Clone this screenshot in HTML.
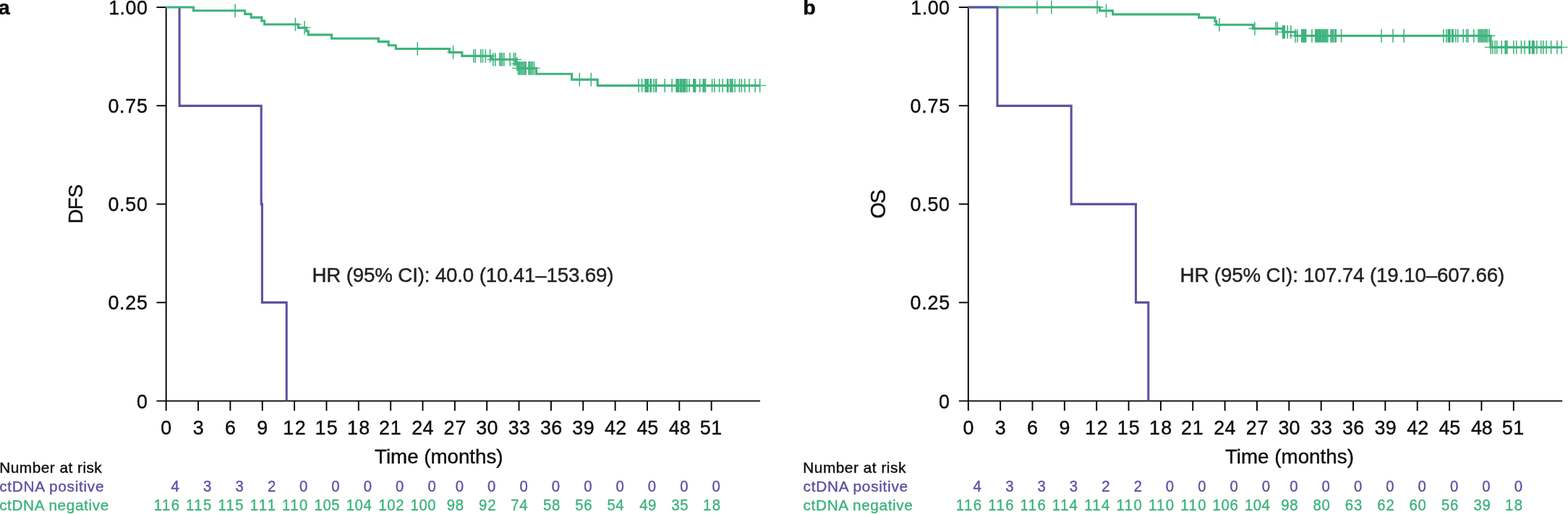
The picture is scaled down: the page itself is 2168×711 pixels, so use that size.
<!DOCTYPE html>
<html lang="en">
<head>
<meta charset="utf-8">
<title>Kaplan–Meier: DFS and OS by ctDNA status</title>
<style>
html,body{margin:0;padding:0;background:#fff;}
body{width:2168px;height:711px;overflow:hidden;}
svg{display:block;font-family:"Liberation Sans",Arial,Helvetica,sans-serif;}
text{white-space:pre;}
</style>
</head>
<body>
<svg width="2168" height="711" viewBox="0 0 2168 711">
<rect width="2168" height="711" fill="#fff"/>
<!-- panel a: DFS -->
<line x1="229.70" y1="9.15" x2="229.70" y2="555.55" stroke="#000" stroke-width="1.9"/>
<line x1="216.40" y1="554.60" x2="1051.00" y2="554.60" stroke="#000" stroke-width="1.9"/>
<line x1="216.40" y1="10.10" x2="229.70" y2="10.10" stroke="#000" stroke-width="1.9"/>
<text transform="translate(150.18 20.10) scale(0.95 1)" font-size="28.3" fill="#0c0c0c" stroke="#0c0c0c" stroke-width="0.4" letter-spacing="0.503">1.00</text>
<line x1="216.40" y1="146.23" x2="229.70" y2="146.23" stroke="#000" stroke-width="1.9"/>
<text transform="translate(149.42 156.23) scale(0.95 1)" font-size="28.3" fill="#0c0c0c" stroke="#0c0c0c" stroke-width="0.4" letter-spacing="0.793">0.75</text>
<line x1="216.40" y1="282.35" x2="229.70" y2="282.35" stroke="#000" stroke-width="1.9"/>
<text transform="translate(149.42 292.35) scale(0.95 1)" font-size="28.3" fill="#0c0c0c" stroke="#0c0c0c" stroke-width="0.4" letter-spacing="0.769">0.50</text>
<line x1="216.40" y1="418.48" x2="229.70" y2="418.48" stroke="#000" stroke-width="1.9"/>
<text transform="translate(149.42 428.48) scale(0.95 1)" font-size="28.3" fill="#0c0c0c" stroke="#0c0c0c" stroke-width="0.4" letter-spacing="0.793">0.25</text>
<text transform="translate(188.99 564.60) scale(0.95 1)" font-size="28.3" fill="#0c0c0c" stroke="#0c0c0c" stroke-width="0.4">0</text>
<line x1="229.70" y1="554.60" x2="229.70" y2="568.20" stroke="#000" stroke-width="1.9"/>
<text transform="translate(222.31 601.10) scale(0.95 1)" font-size="28.3" fill="#0c0c0c" stroke="#0c0c0c" stroke-width="0.4">0</text>
<line x1="274.05" y1="554.60" x2="274.05" y2="568.20" stroke="#000" stroke-width="1.9"/>
<text transform="translate(266.76 601.10) scale(0.95 1)" font-size="28.3" fill="#0c0c0c" stroke="#0c0c0c" stroke-width="0.4">3</text>
<line x1="318.40" y1="554.60" x2="318.40" y2="568.20" stroke="#000" stroke-width="1.9"/>
<text transform="translate(310.94 601.10) scale(0.95 1)" font-size="28.3" fill="#0c0c0c" stroke="#0c0c0c" stroke-width="0.4">6</text>
<line x1="362.75" y1="554.60" x2="362.75" y2="568.20" stroke="#000" stroke-width="1.9"/>
<text transform="translate(355.36 601.10) scale(0.95 1)" font-size="28.3" fill="#0c0c0c" stroke="#0c0c0c" stroke-width="0.4">9</text>
<line x1="407.10" y1="554.60" x2="407.10" y2="568.20" stroke="#000" stroke-width="1.9"/>
<text transform="translate(391.18 601.10) scale(0.95 1)" font-size="28.3" fill="#0c0c0c" stroke="#0c0c0c" stroke-width="0.4" letter-spacing="1.598">12</text>
<line x1="451.45" y1="554.60" x2="451.45" y2="568.20" stroke="#000" stroke-width="1.9"/>
<text transform="translate(435.53 601.10) scale(0.95 1)" font-size="28.3" fill="#0c0c0c" stroke="#0c0c0c" stroke-width="0.4" letter-spacing="1.315">15</text>
<line x1="495.80" y1="554.60" x2="495.80" y2="568.20" stroke="#000" stroke-width="1.9"/>
<text transform="translate(479.88 601.10) scale(0.95 1)" font-size="28.3" fill="#0c0c0c" stroke="#0c0c0c" stroke-width="0.4" letter-spacing="1.386">18</text>
<line x1="540.15" y1="554.60" x2="540.15" y2="568.20" stroke="#000" stroke-width="1.9"/>
<text transform="translate(523.91 601.10) scale(0.95 1)" font-size="28.3" fill="#0c0c0c" stroke="#0c0c0c" stroke-width="0.4" letter-spacing="0.820">21</text>
<line x1="584.50" y1="554.60" x2="584.50" y2="568.20" stroke="#000" stroke-width="1.9"/>
<text transform="translate(569.26 601.10) scale(0.95 1)" font-size="28.3" fill="#0c0c0c" stroke="#0c0c0c" stroke-width="0.4" letter-spacing="0.254">24</text>
<line x1="628.85" y1="554.60" x2="628.85" y2="568.20" stroke="#000" stroke-width="1.9"/>
<text transform="translate(613.61 601.10) scale(0.95 1)" font-size="28.3" fill="#0c0c0c" stroke="#0c0c0c" stroke-width="0.4" letter-spacing="0.891">27</text>
<line x1="673.20" y1="554.60" x2="673.20" y2="568.20" stroke="#000" stroke-width="1.9"/>
<text transform="translate(658.29 601.10) scale(0.95 1)" font-size="28.3" fill="#0c0c0c" stroke="#0c0c0c" stroke-width="0.4" letter-spacing="0.183">30</text>
<line x1="717.55" y1="554.60" x2="717.55" y2="568.20" stroke="#000" stroke-width="1.9"/>
<text transform="translate(702.64 601.10) scale(0.95 1)" font-size="28.3" fill="#0c0c0c" stroke="#0c0c0c" stroke-width="0.4" letter-spacing="0.325">33</text>
<line x1="761.90" y1="554.60" x2="761.90" y2="568.20" stroke="#000" stroke-width="1.9"/>
<text transform="translate(746.99 601.10) scale(0.95 1)" font-size="28.3" fill="#0c0c0c" stroke="#0c0c0c" stroke-width="0.4" letter-spacing="0.325">36</text>
<line x1="806.25" y1="554.60" x2="806.25" y2="568.20" stroke="#000" stroke-width="1.9"/>
<text transform="translate(791.34 601.10) scale(0.95 1)" font-size="28.3" fill="#0c0c0c" stroke="#0c0c0c" stroke-width="0.4" letter-spacing="0.395">39</text>
<line x1="850.60" y1="554.60" x2="850.60" y2="568.20" stroke="#000" stroke-width="1.9"/>
<text transform="translate(836.10 601.10) scale(0.95 1)" font-size="28.3" fill="#0c0c0c" stroke="#0c0c0c" stroke-width="0.4" letter-spacing="0.112">42</text>
<line x1="894.95" y1="554.60" x2="894.95" y2="568.20" stroke="#000" stroke-width="1.9"/>
<text transform="translate(880.45 601.10) scale(0.95 1)" font-size="28.3" fill="#0c0c0c" stroke="#0c0c0c" stroke-width="0.4" letter-spacing="-0.171">45</text>
<line x1="939.30" y1="554.60" x2="939.30" y2="568.20" stroke="#000" stroke-width="1.9"/>
<text transform="translate(924.80 601.10) scale(0.95 1)" font-size="28.3" fill="#0c0c0c" stroke="#0c0c0c" stroke-width="0.4" letter-spacing="-0.100">48</text>
<line x1="983.65" y1="554.60" x2="983.65" y2="568.20" stroke="#000" stroke-width="1.9"/>
<text transform="translate(967.67 601.10) scale(0.95 1)" font-size="28.3" fill="#0c0c0c" stroke="#0c0c0c" stroke-width="0.4" letter-spacing="0.537">51</text>
<text x="518.08" y="641.30" font-size="27.7" fill="#0c0c0c" stroke="#0c0c0c" stroke-width="0.4" letter-spacing="-0.003">Time (months)</text>
<text transform="translate(114.20 309.29) rotate(-90)" font-size="27.7" fill="#0c0c0c" stroke="#0c0c0c" stroke-width="0.4" letter-spacing="-0.599">DFS</text>
<polyline points="248.10,10.00 248.10,146.40 361.20,146.40 361.20,282.40 362.40,282.40 362.40,418.40 396.20,418.40 396.20,554.60" fill="none" stroke="#5e52a2" stroke-width="3.1" stroke-linejoin="miter" stroke-linecap="butt"/>
<polyline points="229.00,10.00 267.50,10.00 267.50,14.80 338.70,14.80 338.70,19.40 347.20,19.40 347.20,24.10 361.80,24.10 361.80,28.90 365.60,28.90 365.60,33.70 412.40,33.70 412.40,38.40 423.80,38.40 423.80,43.10 426.30,43.10 426.30,48.10 458.60,48.10 458.60,53.20 523.40,53.20 523.40,57.60 537.20,57.60 537.20,62.70 547.30,62.70 547.30,67.50 621.50,67.50 621.50,72.40 638.80,72.40 638.80,77.40 679.30,77.40 679.30,82.30 713.10,82.30 713.10,88.40 716.00,88.40 716.00,94.40 741.50,94.40 741.50,102.30 790.60,102.30 790.60,110.10 826.20,110.10 826.20,118.35 1050.70,118.35" fill="none" stroke="#3eb37d" stroke-width="3.1" stroke-linejoin="miter" stroke-linecap="butt"/>
<path d="M325.10 5.50V24.10M408.40 24.40V43.00M421.00 29.10V47.70M577.20 58.20V76.80M626.60 63.10V81.70M654.90 68.10V86.70M657.40 68.10V86.70M664.80 68.10V86.70M667.50 68.10V86.70M671.30 68.10V86.70M677.60 68.10V86.70M681.90 73.00V91.60M684.80 73.00V91.60M690.80 73.00V91.60M692.70 73.00V91.60M694.60 73.00V91.60M696.90 73.00V91.60M705.10 73.00V91.60M710.50 73.00V91.60M712.70 73.00V91.60M715.00 79.10V97.70M716.40 85.10V103.70M718.20 85.10V103.70M719.90 85.10V103.70M721.70 85.10V103.70M723.60 85.10V103.70M725.50 85.10V103.70M727.10 85.10V103.70M731.00 85.10V103.70M732.60 85.10V103.70M734.50 85.10V103.70M736.40 85.10V103.70M738.50 85.10V103.70M801.30 100.80V119.40M817.30 100.80V119.40M883.00 109.05V127.65M887.60 109.05V127.65M892.00 109.05V127.65M893.50 109.05V127.65M895.00 109.05V127.65M896.30 109.05V127.65M899.00 109.05V127.65M900.30 109.05V127.65M904.00 109.05V127.65M906.60 109.05V127.65M907.50 109.05V127.65M919.20 109.05V127.65M929.10 109.05V127.65M935.00 109.05V127.65M936.20 109.05V127.65M937.40 109.05V127.65M938.40 109.05V127.65M940.40 109.05V127.65M941.60 109.05V127.65M942.80 109.05V127.65M944.60 109.05V127.65M945.80 109.05V127.65M947.00 109.05V127.65M947.80 109.05V127.65M950.00 109.05V127.65M953.00 109.05V127.65M958.80 109.05V127.65M960.20 109.05V127.65M961.60 109.05V127.65M967.60 109.05V127.65M972.20 109.05V127.65M973.80 109.05V127.65M975.50 109.05V127.65M984.60 109.05V127.65M987.90 109.05V127.65M994.60 109.05V127.65M999.20 109.05V127.65M1005.50 109.05V127.65M1006.80 109.05V127.65M1009.60 109.05V127.65M1011.30 109.05V127.65M1012.90 109.05V127.65M1016.10 109.05V127.65M1022.30 109.05V127.65M1025.30 109.05V127.65M1029.80 109.05V127.65M1036.00 109.05V127.65M1044.20 109.05V127.65M1050.70 109.05V127.65" fill="none" stroke="#3eb37d" stroke-width="1.55"/>
<path d="M316.70 14.80H333.50M400.00 33.70H416.80M412.60 38.40H429.40M568.80 67.50H585.60M618.20 72.40H635.00M646.50 77.40H663.30M649.00 77.40H665.80M656.40 77.40H673.20M659.10 77.40H675.90M662.90 77.40H679.70M669.20 77.40H686.00M673.50 82.30H690.30M676.40 82.30H693.20M682.40 82.30H699.20M684.30 82.30H701.10M686.20 82.30H703.00M688.50 82.30H705.30M696.70 82.30H713.50M702.10 82.30H718.90M704.30 82.30H721.10M706.60 88.40H723.40M708.00 94.40H724.80M709.80 94.40H726.60M711.50 94.40H728.30M713.30 94.40H730.10M715.20 94.40H732.00M717.10 94.40H733.90M718.70 94.40H735.50M722.60 94.40H739.40M724.20 94.40H741.00M726.10 94.40H742.90M728.00 94.40H744.80M730.10 94.40H746.90M792.90 110.10H809.70M808.90 110.10H825.70M874.60 118.35H891.40M879.20 118.35H896.00M883.60 118.35H900.40M885.10 118.35H901.90M886.60 118.35H903.40M887.90 118.35H904.70M890.60 118.35H907.40M891.90 118.35H908.70M895.60 118.35H912.40M898.20 118.35H915.00M899.10 118.35H915.90M910.80 118.35H927.60M920.70 118.35H937.50M926.60 118.35H943.40M927.80 118.35H944.60M929.00 118.35H945.80M930.00 118.35H946.80M932.00 118.35H948.80M933.20 118.35H950.00M934.40 118.35H951.20M936.20 118.35H953.00M937.40 118.35H954.20M938.60 118.35H955.40M939.40 118.35H956.20M941.60 118.35H958.40M944.60 118.35H961.40M950.40 118.35H967.20M951.80 118.35H968.60M953.20 118.35H970.00M959.20 118.35H976.00M963.80 118.35H980.60M965.40 118.35H982.20M967.10 118.35H983.90M976.20 118.35H993.00M979.50 118.35H996.30M986.20 118.35H1003.00M990.80 118.35H1007.60M997.10 118.35H1013.90M998.40 118.35H1015.20M1001.20 118.35H1018.00M1002.90 118.35H1019.70M1004.50 118.35H1021.30M1007.70 118.35H1024.50M1013.90 118.35H1030.70M1016.90 118.35H1033.70M1021.40 118.35H1038.20M1027.60 118.35H1044.40M1035.80 118.35H1052.60M1042.30 118.35H1059.10" fill="none" stroke="#3eb37d" stroke-width="1.3"/>
<text transform="translate(-2.13 19.80) scale(1.07 1)" font-size="26.8" fill="#0c0c0c" stroke="#0c0c0c" stroke-width="0.5" font-weight="bold">a</text>
<text x="431.51" y="390.20" font-size="27.7" fill="#212121" stroke="#212121" stroke-width="0.4" letter-spacing="-0.153">HR (95% CI): 40.0 (10.41–153.69)</text>
<text x="-0.72" y="654.40" font-size="20.8" fill="#0c0c0c" stroke="#0c0c0c" stroke-width="0.4" letter-spacing="0.482">Number at risk</text>
<text x="-0.88" y="680.20" font-size="20.8" fill="#5e52a2" stroke="#5e52a2" stroke-width="0.4" letter-spacing="0.701">ctDNA positive</text>
<text x="-0.88" y="706.20" font-size="20.8" fill="#3eb37d" stroke="#3eb37d" stroke-width="0.4" letter-spacing="0.600">ctDNA negative</text>
<text transform="translate(236.38 680.20) scale(0.95 1)" font-size="21.4" fill="#5e52a2" stroke="#5e52a2" stroke-width="0.4">4</text>
<text transform="translate(212.68 706.10) scale(0.95 1)" font-size="21.4" fill="#3eb37d" stroke="#3eb37d" stroke-width="0.4" letter-spacing="1.533">116</text>
<text transform="translate(281.03 680.20) scale(0.95 1)" font-size="21.4" fill="#5e52a2" stroke="#5e52a2" stroke-width="0.4">3</text>
<text transform="translate(257.03 706.10) scale(0.95 1)" font-size="21.4" fill="#3eb37d" stroke="#3eb37d" stroke-width="0.4" letter-spacing="1.507">115</text>
<text transform="translate(325.38 680.20) scale(0.95 1)" font-size="21.4" fill="#5e52a2" stroke="#5e52a2" stroke-width="0.4">3</text>
<text transform="translate(301.38 706.10) scale(0.95 1)" font-size="21.4" fill="#3eb37d" stroke="#3eb37d" stroke-width="0.4" letter-spacing="1.507">115</text>
<text transform="translate(369.88 680.20) scale(0.95 1)" font-size="21.4" fill="#5e52a2" stroke="#5e52a2" stroke-width="0.4">2</text>
<text transform="translate(345.73 706.10) scale(0.95 1)" font-size="21.4" fill="#3eb37d" stroke="#3eb37d" stroke-width="0.4" letter-spacing="2.363">111</text>
<text transform="translate(413.98 680.20) scale(0.95 1)" font-size="21.4" fill="#5e52a2" stroke="#5e52a2" stroke-width="0.4">0</text>
<text transform="translate(390.08 706.10) scale(0.95 1)" font-size="21.4" fill="#3eb37d" stroke="#3eb37d" stroke-width="0.4" letter-spacing="1.480">110</text>
<text transform="translate(458.33 680.20) scale(0.95 1)" font-size="21.4" fill="#5e52a2" stroke="#5e52a2" stroke-width="0.4">0</text>
<text transform="translate(434.43 706.10) scale(0.95 1)" font-size="21.4" fill="#3eb37d" stroke="#3eb37d" stroke-width="0.4" letter-spacing="0.704">105</text>
<text transform="translate(502.68 680.20) scale(0.95 1)" font-size="21.4" fill="#5e52a2" stroke="#5e52a2" stroke-width="0.4">0</text>
<text transform="translate(478.78 706.10) scale(0.95 1)" font-size="21.4" fill="#3eb37d" stroke="#3eb37d" stroke-width="0.4" letter-spacing="0.570">104</text>
<text transform="translate(547.03 680.20) scale(0.95 1)" font-size="21.4" fill="#5e52a2" stroke="#5e52a2" stroke-width="0.4">0</text>
<text transform="translate(523.13 706.10) scale(0.95 1)" font-size="21.4" fill="#3eb37d" stroke="#3eb37d" stroke-width="0.4" letter-spacing="0.811">102</text>
<text transform="translate(591.38 680.20) scale(0.95 1)" font-size="21.4" fill="#5e52a2" stroke="#5e52a2" stroke-width="0.4">0</text>
<text transform="translate(567.48 706.10) scale(0.95 1)" font-size="21.4" fill="#3eb37d" stroke="#3eb37d" stroke-width="0.4" letter-spacing="0.677">100</text>
<text transform="translate(629.73 680.20) scale(0.95 1)" font-size="21.4" fill="#5e52a2" stroke="#5e52a2" stroke-width="0.4">0</text>
<text transform="translate(617.68 706.10) scale(0.95 1)" font-size="21.4" fill="#3eb37d" stroke="#3eb37d" stroke-width="0.4" letter-spacing="0.909">98</text>
<text transform="translate(674.08 680.20) scale(0.95 1)" font-size="21.4" fill="#5e52a2" stroke="#5e52a2" stroke-width="0.4">0</text>
<text transform="translate(662.03 706.10) scale(0.95 1)" font-size="21.4" fill="#3eb37d" stroke="#3eb37d" stroke-width="0.4" letter-spacing="1.069">92</text>
<text transform="translate(718.43 680.20) scale(0.95 1)" font-size="21.4" fill="#5e52a2" stroke="#5e52a2" stroke-width="0.4">0</text>
<text transform="translate(706.28 706.10) scale(0.95 1)" font-size="21.4" fill="#3eb37d" stroke="#3eb37d" stroke-width="0.4" letter-spacing="0.695">74</text>
<text transform="translate(762.78 680.20) scale(0.95 1)" font-size="21.4" fill="#5e52a2" stroke="#5e52a2" stroke-width="0.4">0</text>
<text transform="translate(750.89 706.10) scale(0.95 1)" font-size="21.4" fill="#3eb37d" stroke="#3eb37d" stroke-width="0.4" letter-spacing="0.748">58</text>
<text transform="translate(807.13 680.20) scale(0.95 1)" font-size="21.4" fill="#5e52a2" stroke="#5e52a2" stroke-width="0.4">0</text>
<text transform="translate(795.24 706.10) scale(0.95 1)" font-size="21.4" fill="#3eb37d" stroke="#3eb37d" stroke-width="0.4" letter-spacing="0.748">56</text>
<text transform="translate(851.48 680.20) scale(0.95 1)" font-size="21.4" fill="#5e52a2" stroke="#5e52a2" stroke-width="0.4">0</text>
<text transform="translate(839.59 706.10) scale(0.95 1)" font-size="21.4" fill="#3eb37d" stroke="#3eb37d" stroke-width="0.4" letter-spacing="0.427">54</text>
<text transform="translate(895.83 680.20) scale(0.95 1)" font-size="21.4" fill="#5e52a2" stroke="#5e52a2" stroke-width="0.4">0</text>
<text transform="translate(884.29 706.10) scale(0.95 1)" font-size="21.4" fill="#3eb37d" stroke="#3eb37d" stroke-width="0.4" letter-spacing="0.427">49</text>
<text transform="translate(940.18 680.20) scale(0.95 1)" font-size="21.4" fill="#5e52a2" stroke="#5e52a2" stroke-width="0.4">0</text>
<text transform="translate(928.34 706.10) scale(0.95 1)" font-size="21.4" fill="#3eb37d" stroke="#3eb37d" stroke-width="0.4" letter-spacing="0.641">35</text>
<text transform="translate(984.53 680.20) scale(0.95 1)" font-size="21.4" fill="#5e52a2" stroke="#5e52a2" stroke-width="0.4">0</text>
<text transform="translate(971.93 706.10) scale(0.95 1)" font-size="21.4" fill="#3eb37d" stroke="#3eb37d" stroke-width="0.4" letter-spacing="1.497">18</text>
<!-- panel b: OS -->
<line x1="1338.80" y1="9.15" x2="1338.80" y2="555.55" stroke="#000" stroke-width="1.9"/>
<line x1="1325.80" y1="554.60" x2="2160.10" y2="554.60" stroke="#000" stroke-width="1.9"/>
<line x1="1325.80" y1="10.10" x2="1338.80" y2="10.10" stroke="#000" stroke-width="1.9"/>
<text transform="translate(1259.28 20.10) scale(0.95 1)" font-size="28.3" fill="#0c0c0c" stroke="#0c0c0c" stroke-width="0.4" letter-spacing="0.503">1.00</text>
<line x1="1325.80" y1="146.23" x2="1338.80" y2="146.23" stroke="#000" stroke-width="1.9"/>
<text transform="translate(1258.52 156.23) scale(0.95 1)" font-size="28.3" fill="#0c0c0c" stroke="#0c0c0c" stroke-width="0.4" letter-spacing="0.793">0.75</text>
<line x1="1325.80" y1="282.35" x2="1338.80" y2="282.35" stroke="#000" stroke-width="1.9"/>
<text transform="translate(1258.52 292.35) scale(0.95 1)" font-size="28.3" fill="#0c0c0c" stroke="#0c0c0c" stroke-width="0.4" letter-spacing="0.769">0.50</text>
<line x1="1325.80" y1="418.48" x2="1338.80" y2="418.48" stroke="#000" stroke-width="1.9"/>
<text transform="translate(1258.52 428.48) scale(0.95 1)" font-size="28.3" fill="#0c0c0c" stroke="#0c0c0c" stroke-width="0.4" letter-spacing="0.793">0.25</text>
<text transform="translate(1298.09 564.60) scale(0.95 1)" font-size="28.3" fill="#0c0c0c" stroke="#0c0c0c" stroke-width="0.4">0</text>
<line x1="1338.80" y1="554.60" x2="1338.80" y2="568.20" stroke="#000" stroke-width="1.9"/>
<text transform="translate(1331.41 601.10) scale(0.95 1)" font-size="28.3" fill="#0c0c0c" stroke="#0c0c0c" stroke-width="0.4">0</text>
<line x1="1383.15" y1="554.60" x2="1383.15" y2="568.20" stroke="#000" stroke-width="1.9"/>
<text transform="translate(1375.86 601.10) scale(0.95 1)" font-size="28.3" fill="#0c0c0c" stroke="#0c0c0c" stroke-width="0.4">3</text>
<line x1="1427.50" y1="554.60" x2="1427.50" y2="568.20" stroke="#000" stroke-width="1.9"/>
<text transform="translate(1420.04 601.10) scale(0.95 1)" font-size="28.3" fill="#0c0c0c" stroke="#0c0c0c" stroke-width="0.4">6</text>
<line x1="1471.85" y1="554.60" x2="1471.85" y2="568.20" stroke="#000" stroke-width="1.9"/>
<text transform="translate(1464.46 601.10) scale(0.95 1)" font-size="28.3" fill="#0c0c0c" stroke="#0c0c0c" stroke-width="0.4">9</text>
<line x1="1516.20" y1="554.60" x2="1516.20" y2="568.20" stroke="#000" stroke-width="1.9"/>
<text transform="translate(1500.28 601.10) scale(0.95 1)" font-size="28.3" fill="#0c0c0c" stroke="#0c0c0c" stroke-width="0.4" letter-spacing="1.598">12</text>
<line x1="1560.55" y1="554.60" x2="1560.55" y2="568.20" stroke="#000" stroke-width="1.9"/>
<text transform="translate(1544.63 601.10) scale(0.95 1)" font-size="28.3" fill="#0c0c0c" stroke="#0c0c0c" stroke-width="0.4" letter-spacing="1.315">15</text>
<line x1="1604.90" y1="554.60" x2="1604.90" y2="568.20" stroke="#000" stroke-width="1.9"/>
<text transform="translate(1588.98 601.10) scale(0.95 1)" font-size="28.3" fill="#0c0c0c" stroke="#0c0c0c" stroke-width="0.4" letter-spacing="1.386">18</text>
<line x1="1649.25" y1="554.60" x2="1649.25" y2="568.20" stroke="#000" stroke-width="1.9"/>
<text transform="translate(1633.01 601.10) scale(0.95 1)" font-size="28.3" fill="#0c0c0c" stroke="#0c0c0c" stroke-width="0.4" letter-spacing="0.820">21</text>
<line x1="1693.60" y1="554.60" x2="1693.60" y2="568.20" stroke="#000" stroke-width="1.9"/>
<text transform="translate(1678.36 601.10) scale(0.95 1)" font-size="28.3" fill="#0c0c0c" stroke="#0c0c0c" stroke-width="0.4" letter-spacing="0.254">24</text>
<line x1="1737.95" y1="554.60" x2="1737.95" y2="568.20" stroke="#000" stroke-width="1.9"/>
<text transform="translate(1722.71 601.10) scale(0.95 1)" font-size="28.3" fill="#0c0c0c" stroke="#0c0c0c" stroke-width="0.4" letter-spacing="0.891">27</text>
<line x1="1782.30" y1="554.60" x2="1782.30" y2="568.20" stroke="#000" stroke-width="1.9"/>
<text transform="translate(1767.39 601.10) scale(0.95 1)" font-size="28.3" fill="#0c0c0c" stroke="#0c0c0c" stroke-width="0.4" letter-spacing="0.183">30</text>
<line x1="1826.65" y1="554.60" x2="1826.65" y2="568.20" stroke="#000" stroke-width="1.9"/>
<text transform="translate(1811.74 601.10) scale(0.95 1)" font-size="28.3" fill="#0c0c0c" stroke="#0c0c0c" stroke-width="0.4" letter-spacing="0.325">33</text>
<line x1="1871.00" y1="554.60" x2="1871.00" y2="568.20" stroke="#000" stroke-width="1.9"/>
<text transform="translate(1856.09 601.10) scale(0.95 1)" font-size="28.3" fill="#0c0c0c" stroke="#0c0c0c" stroke-width="0.4" letter-spacing="0.325">36</text>
<line x1="1915.35" y1="554.60" x2="1915.35" y2="568.20" stroke="#000" stroke-width="1.9"/>
<text transform="translate(1900.44 601.10) scale(0.95 1)" font-size="28.3" fill="#0c0c0c" stroke="#0c0c0c" stroke-width="0.4" letter-spacing="0.395">39</text>
<line x1="1959.70" y1="554.60" x2="1959.70" y2="568.20" stroke="#000" stroke-width="1.9"/>
<text transform="translate(1945.20 601.10) scale(0.95 1)" font-size="28.3" fill="#0c0c0c" stroke="#0c0c0c" stroke-width="0.4" letter-spacing="0.112">42</text>
<line x1="2004.05" y1="554.60" x2="2004.05" y2="568.20" stroke="#000" stroke-width="1.9"/>
<text transform="translate(1989.55 601.10) scale(0.95 1)" font-size="28.3" fill="#0c0c0c" stroke="#0c0c0c" stroke-width="0.4" letter-spacing="-0.171">45</text>
<line x1="2048.40" y1="554.60" x2="2048.40" y2="568.20" stroke="#000" stroke-width="1.9"/>
<text transform="translate(2033.90 601.10) scale(0.95 1)" font-size="28.3" fill="#0c0c0c" stroke="#0c0c0c" stroke-width="0.4" letter-spacing="-0.100">48</text>
<line x1="2092.75" y1="554.60" x2="2092.75" y2="568.20" stroke="#000" stroke-width="1.9"/>
<text transform="translate(2076.77 601.10) scale(0.95 1)" font-size="28.3" fill="#0c0c0c" stroke="#0c0c0c" stroke-width="0.4" letter-spacing="0.537">51</text>
<text x="1693.88" y="641.30" font-size="27.7" fill="#0c0c0c" stroke="#0c0c0c" stroke-width="0.4" letter-spacing="0.047">Time (months)</text>
<text transform="translate(1223.90 302.27) rotate(-90)" font-size="28.9" fill="#0c0c0c" stroke="#0c0c0c" stroke-width="0.4" letter-spacing="-1.615">OS</text>
<polyline points="1338.10,10.00 1520.50,10.00 1520.50,14.90 1538.60,14.90 1538.60,19.90 1657.70,19.90 1657.70,24.40 1679.90,24.40 1679.90,29.40 1681.80,29.40 1681.80,34.20 1732.40,34.20 1732.40,39.50 1773.50,39.50 1773.50,44.30 1791.00,44.30 1791.00,49.50 2061.00,49.50 2061.00,65.40 2159.10,65.40" fill="none" stroke="#3eb37d" stroke-width="3.1" stroke-linejoin="miter" stroke-linecap="butt"/>
<path d="M1434.00 0.70V19.30M1453.80 0.70V19.30M1517.10 0.70V19.30M1529.50 5.60V24.20M1686.00 24.90V43.50M1734.90 30.20V48.80M1763.90 30.20V48.80M1766.20 30.20V48.80M1773.50 35.00V53.60M1775.00 35.00V53.60M1776.40 35.00V53.60M1780.20 35.00V53.60M1784.80 35.00V53.60M1791.10 40.20V58.80M1793.90 40.20V58.80M1799.80 40.20V58.80M1801.30 40.20V58.80M1802.70 40.20V58.80M1804.10 40.20V58.80M1805.60 40.20V58.80M1813.90 40.20V58.80M1818.80 40.20V58.80M1820.30 40.20V58.80M1821.90 40.20V58.80M1823.50 40.20V58.80M1824.90 40.20V58.80M1826.30 40.20V58.80M1828.10 40.20V58.80M1829.50 40.20V58.80M1830.90 40.20V58.80M1832.60 40.20V58.80M1834.00 40.20V58.80M1835.80 40.20V58.80M1840.00 40.20V58.80M1841.70 40.20V58.80M1843.40 40.20V58.80M1845.50 40.20V58.80M1847.20 40.20V58.80M1854.60 40.20V58.80M1910.00 40.20V58.80M1926.00 40.20V58.80M1941.10 40.20V58.80M1995.90 40.20V58.80M1999.70 40.20V58.80M2002.20 40.20V58.80M2003.60 40.20V58.80M2005.00 40.20V58.80M2007.70 40.20V58.80M2009.10 40.20V58.80M2012.80 40.20V58.80M2015.70 40.20V58.80M2023.20 40.20V58.80M2027.60 40.20V58.80M2029.70 40.20V58.80M2037.80 40.20V58.80M2043.90 40.20V58.80M2045.70 40.20V58.80M2047.50 40.20V58.80M2049.30 40.20V58.80M2051.10 40.20V58.80M2052.90 40.20V58.80M2054.70 40.20V58.80M2056.50 40.20V58.80M2059.00 40.20V58.80M2061.20 56.10V74.70M2063.80 56.10V74.70M2067.10 56.10V74.70M2069.70 56.10V74.70M2076.20 56.10V74.70M2081.10 56.10V74.70M2082.30 56.10V74.70M2084.00 56.10V74.70M2092.90 56.10V74.70M2096.70 56.10V74.70M2103.40 56.10V74.70M2108.10 56.10V74.70M2114.20 56.10V74.70M2115.50 56.10V74.70M2118.60 56.10V74.70M2119.90 56.10V74.70M2121.10 56.10V74.70M2124.90 56.10V74.70M2130.80 56.10V74.70M2133.80 56.10V74.70M2138.00 56.10V74.70M2144.60 56.10V74.70M2153.00 56.10V74.70M2159.10 56.10V74.70" fill="none" stroke="#3eb37d" stroke-width="1.55"/>
<path d="M1425.60 10.00H1442.40M1445.40 10.00H1462.20M1508.70 10.00H1525.50M1521.10 14.90H1537.90M1677.60 34.20H1694.40M1726.50 39.50H1743.30M1755.50 39.50H1772.30M1757.80 39.50H1774.60M1765.10 44.30H1781.90M1766.60 44.30H1783.40M1768.00 44.30H1784.80M1771.80 44.30H1788.60M1776.40 44.30H1793.20M1782.70 49.50H1799.50M1785.50 49.50H1802.30M1791.40 49.50H1808.20M1792.90 49.50H1809.70M1794.30 49.50H1811.10M1795.70 49.50H1812.50M1797.20 49.50H1814.00M1805.50 49.50H1822.30M1810.40 49.50H1827.20M1811.90 49.50H1828.70M1813.50 49.50H1830.30M1815.10 49.50H1831.90M1816.50 49.50H1833.30M1817.90 49.50H1834.70M1819.70 49.50H1836.50M1821.10 49.50H1837.90M1822.50 49.50H1839.30M1824.20 49.50H1841.00M1825.60 49.50H1842.40M1827.40 49.50H1844.20M1831.60 49.50H1848.40M1833.30 49.50H1850.10M1835.00 49.50H1851.80M1837.10 49.50H1853.90M1838.80 49.50H1855.60M1846.20 49.50H1863.00M1901.60 49.50H1918.40M1917.60 49.50H1934.40M1932.70 49.50H1949.50M1987.50 49.50H2004.30M1991.30 49.50H2008.10M1993.80 49.50H2010.60M1995.20 49.50H2012.00M1996.60 49.50H2013.40M1999.30 49.50H2016.10M2000.70 49.50H2017.50M2004.40 49.50H2021.20M2007.30 49.50H2024.10M2014.80 49.50H2031.60M2019.20 49.50H2036.00M2021.30 49.50H2038.10M2029.40 49.50H2046.20M2035.50 49.50H2052.30M2037.30 49.50H2054.10M2039.10 49.50H2055.90M2040.90 49.50H2057.70M2042.70 49.50H2059.50M2044.50 49.50H2061.30M2046.30 49.50H2063.10M2048.10 49.50H2064.90M2050.60 49.50H2067.40M2052.80 65.40H2069.60M2055.40 65.40H2072.20M2058.70 65.40H2075.50M2061.30 65.40H2078.10M2067.80 65.40H2084.60M2072.70 65.40H2089.50M2073.90 65.40H2090.70M2075.60 65.40H2092.40M2084.50 65.40H2101.30M2088.30 65.40H2105.10M2095.00 65.40H2111.80M2099.70 65.40H2116.50M2105.80 65.40H2122.60M2107.10 65.40H2123.90M2110.20 65.40H2127.00M2111.50 65.40H2128.30M2112.70 65.40H2129.50M2116.50 65.40H2133.30M2122.40 65.40H2139.20M2125.40 65.40H2142.20M2129.60 65.40H2146.40M2136.20 65.40H2153.00M2144.60 65.40H2161.40M2150.70 65.40H2167.50" fill="none" stroke="#3eb37d" stroke-width="1.3"/>
<polyline points="1338.10,10.00 1379.00,10.00 1379.00,146.40 1481.20,146.40 1481.20,282.40 1570.50,282.40 1570.50,418.40 1587.80,418.40 1587.80,554.60" fill="none" stroke="#5e52a2" stroke-width="3.1" stroke-linejoin="miter" stroke-linecap="butt"/>
<text transform="translate(1110.34 19.80) scale(1.07 1)" font-size="26.8" fill="#0c0c0c" stroke="#0c0c0c" stroke-width="0.5" font-weight="bold">b</text>
<text x="1631.51" y="390.20" font-size="27.7" fill="#212121" stroke="#212121" stroke-width="0.4" letter-spacing="-0.114">HR (95% CI): 107.74 (19.10–607.66)</text>
<text x="1110.28" y="654.40" font-size="20.8" fill="#0c0c0c" stroke="#0c0c0c" stroke-width="0.4" letter-spacing="0.528">Number at risk</text>
<text x="1110.62" y="680.20" font-size="20.8" fill="#5e52a2" stroke="#5e52a2" stroke-width="0.4" letter-spacing="0.709">ctDNA positive</text>
<text x="1110.62" y="706.20" font-size="20.8" fill="#3eb37d" stroke="#3eb37d" stroke-width="0.4" letter-spacing="0.608">ctDNA negative</text>
<text transform="translate(1345.48 680.20) scale(0.95 1)" font-size="21.4" fill="#5e52a2" stroke="#5e52a2" stroke-width="0.4">4</text>
<text transform="translate(1321.78 706.10) scale(0.95 1)" font-size="21.4" fill="#3eb37d" stroke="#3eb37d" stroke-width="0.4" letter-spacing="1.533">116</text>
<text transform="translate(1390.13 680.20) scale(0.95 1)" font-size="21.4" fill="#5e52a2" stroke="#5e52a2" stroke-width="0.4">3</text>
<text transform="translate(1366.13 706.10) scale(0.95 1)" font-size="21.4" fill="#3eb37d" stroke="#3eb37d" stroke-width="0.4" letter-spacing="1.533">116</text>
<text transform="translate(1434.48 680.20) scale(0.95 1)" font-size="21.4" fill="#5e52a2" stroke="#5e52a2" stroke-width="0.4">3</text>
<text transform="translate(1410.48 706.10) scale(0.95 1)" font-size="21.4" fill="#3eb37d" stroke="#3eb37d" stroke-width="0.4" letter-spacing="1.533">116</text>
<text transform="translate(1478.83 680.20) scale(0.95 1)" font-size="21.4" fill="#5e52a2" stroke="#5e52a2" stroke-width="0.4">3</text>
<text transform="translate(1454.83 706.10) scale(0.95 1)" font-size="21.4" fill="#3eb37d" stroke="#3eb37d" stroke-width="0.4" letter-spacing="1.373">114</text>
<text transform="translate(1523.33 680.20) scale(0.95 1)" font-size="21.4" fill="#5e52a2" stroke="#5e52a2" stroke-width="0.4">2</text>
<text transform="translate(1499.18 706.10) scale(0.95 1)" font-size="21.4" fill="#3eb37d" stroke="#3eb37d" stroke-width="0.4" letter-spacing="1.373">114</text>
<text transform="translate(1567.68 680.20) scale(0.95 1)" font-size="21.4" fill="#5e52a2" stroke="#5e52a2" stroke-width="0.4">2</text>
<text transform="translate(1543.53 706.10) scale(0.95 1)" font-size="21.4" fill="#3eb37d" stroke="#3eb37d" stroke-width="0.4" letter-spacing="1.480">110</text>
<text transform="translate(1611.78 680.20) scale(0.95 1)" font-size="21.4" fill="#5e52a2" stroke="#5e52a2" stroke-width="0.4">0</text>
<text transform="translate(1587.88 706.10) scale(0.95 1)" font-size="21.4" fill="#3eb37d" stroke="#3eb37d" stroke-width="0.4" letter-spacing="1.480">110</text>
<text transform="translate(1656.13 680.20) scale(0.95 1)" font-size="21.4" fill="#5e52a2" stroke="#5e52a2" stroke-width="0.4">0</text>
<text transform="translate(1632.23 706.10) scale(0.95 1)" font-size="21.4" fill="#3eb37d" stroke="#3eb37d" stroke-width="0.4" letter-spacing="1.480">110</text>
<text transform="translate(1700.48 680.20) scale(0.95 1)" font-size="21.4" fill="#5e52a2" stroke="#5e52a2" stroke-width="0.4">0</text>
<text transform="translate(1676.58 706.10) scale(0.95 1)" font-size="21.4" fill="#3eb37d" stroke="#3eb37d" stroke-width="0.4" letter-spacing="0.731">106</text>
<text transform="translate(1744.83 680.20) scale(0.95 1)" font-size="21.4" fill="#5e52a2" stroke="#5e52a2" stroke-width="0.4">0</text>
<text transform="translate(1720.93 706.10) scale(0.95 1)" font-size="21.4" fill="#3eb37d" stroke="#3eb37d" stroke-width="0.4" letter-spacing="0.570">104</text>
<text transform="translate(1783.18 680.20) scale(0.95 1)" font-size="21.4" fill="#5e52a2" stroke="#5e52a2" stroke-width="0.4">0</text>
<text transform="translate(1771.13 706.10) scale(0.95 1)" font-size="21.4" fill="#3eb37d" stroke="#3eb37d" stroke-width="0.4" letter-spacing="0.909">98</text>
<text transform="translate(1827.53 680.20) scale(0.95 1)" font-size="21.4" fill="#5e52a2" stroke="#5e52a2" stroke-width="0.4">0</text>
<text transform="translate(1815.59 706.10) scale(0.95 1)" font-size="21.4" fill="#3eb37d" stroke="#3eb37d" stroke-width="0.4" letter-spacing="0.695">80</text>
<text transform="translate(1871.88 680.20) scale(0.95 1)" font-size="21.4" fill="#5e52a2" stroke="#5e52a2" stroke-width="0.4">0</text>
<text transform="translate(1859.78 706.10) scale(0.95 1)" font-size="21.4" fill="#3eb37d" stroke="#3eb37d" stroke-width="0.4" letter-spacing="0.962">63</text>
<text transform="translate(1916.23 680.20) scale(0.95 1)" font-size="21.4" fill="#5e52a2" stroke="#5e52a2" stroke-width="0.4">0</text>
<text transform="translate(1904.13 706.10) scale(0.95 1)" font-size="21.4" fill="#3eb37d" stroke="#3eb37d" stroke-width="0.4" letter-spacing="1.123">62</text>
<text transform="translate(1960.58 680.20) scale(0.95 1)" font-size="21.4" fill="#5e52a2" stroke="#5e52a2" stroke-width="0.4">0</text>
<text transform="translate(1948.48 706.10) scale(0.95 1)" font-size="21.4" fill="#3eb37d" stroke="#3eb37d" stroke-width="0.4" letter-spacing="0.855">60</text>
<text transform="translate(2004.93 680.20) scale(0.95 1)" font-size="21.4" fill="#5e52a2" stroke="#5e52a2" stroke-width="0.4">0</text>
<text transform="translate(1993.04 706.10) scale(0.95 1)" font-size="21.4" fill="#3eb37d" stroke="#3eb37d" stroke-width="0.4" letter-spacing="0.748">56</text>
<text transform="translate(2049.28 680.20) scale(0.95 1)" font-size="21.4" fill="#5e52a2" stroke="#5e52a2" stroke-width="0.4">0</text>
<text transform="translate(2037.44 706.10) scale(0.95 1)" font-size="21.4" fill="#3eb37d" stroke="#3eb37d" stroke-width="0.4" letter-spacing="0.748">39</text>
<text transform="translate(2093.63 680.20) scale(0.95 1)" font-size="21.4" fill="#5e52a2" stroke="#5e52a2" stroke-width="0.4">0</text>
<text transform="translate(2081.03 706.10) scale(0.95 1)" font-size="21.4" fill="#3eb37d" stroke="#3eb37d" stroke-width="0.4" letter-spacing="1.497">18</text>
</svg>
</body>
</html>
